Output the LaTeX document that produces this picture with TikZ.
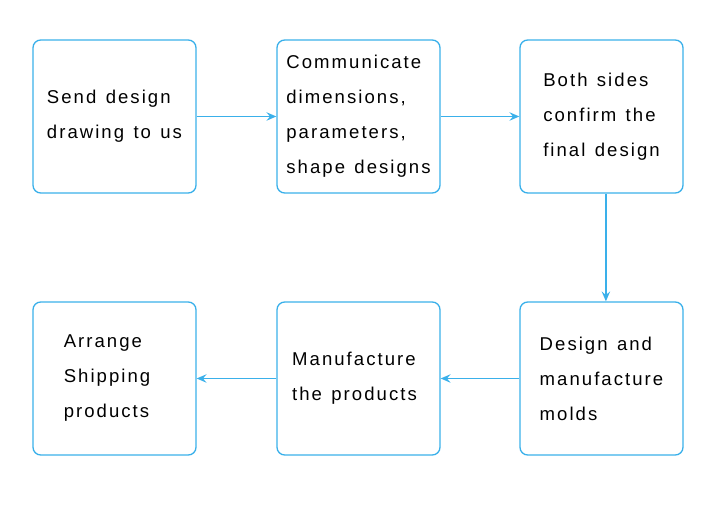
\documentclass[tikz,border=0pt]{standalone}
\usepackage{fontspec}
\setmainfont{Liberation Sans}[LetterSpace=11,WordSpace=1.3]
\usepackage{tikz}
\usetikzlibrary{shapes,positioning,arrows.meta}
\definecolor{lineblue}{RGB}{58,176,234}
\tikzset{box/.style={rectangle,rounded corners=5.5pt,draw=lineblue,line width=0.95pt,minimum width=4.075cm,minimum height=3.825cm,align=left,font=\fontsize{13.2}{24.9}\selectfont}}
\tikzset{arr/.style={draw=lineblue,line width=1pt,-{Stealth[length=7pt,width=6pt,inset=2.5pt]}}}

\begin{document}
\begin{tikzpicture}
    \useasboundingbox (0,0) rectangle (18,12.625);

    \node[box] (a) at (2.8625,9.7125) {Send design\\drawing to us};
    \node[box] (b) at (8.9625,9.7125) {Communicate\\dimensions,\\parameters,\\shape designs};
    \node[box] (c) at (15.0375,9.7125) {Both sides\\confirm the\\final design};
    \node[box] (d) at (15.0375,3.1625) {Design and\\manufacture\\molds};
    \node[box] (e) at (8.9625,3.1625) {Manufacture\\the products\hspace*{0.2cm}};
    \node[box] (f) at (2.8625,3.1625) {Arrange\\Shipping\\products\hspace*{0.4cm}};

    \draw [arr] (a) to (b);
    \draw [arr] (b) to (c);
    \draw [arr] ([xshift=0.11cm]c.south) to ([xshift=0.11cm]d.north);
    \draw [arr] (d) to (e);
    \draw [arr] (e) to (f);
\end{tikzpicture}
\end{document}
